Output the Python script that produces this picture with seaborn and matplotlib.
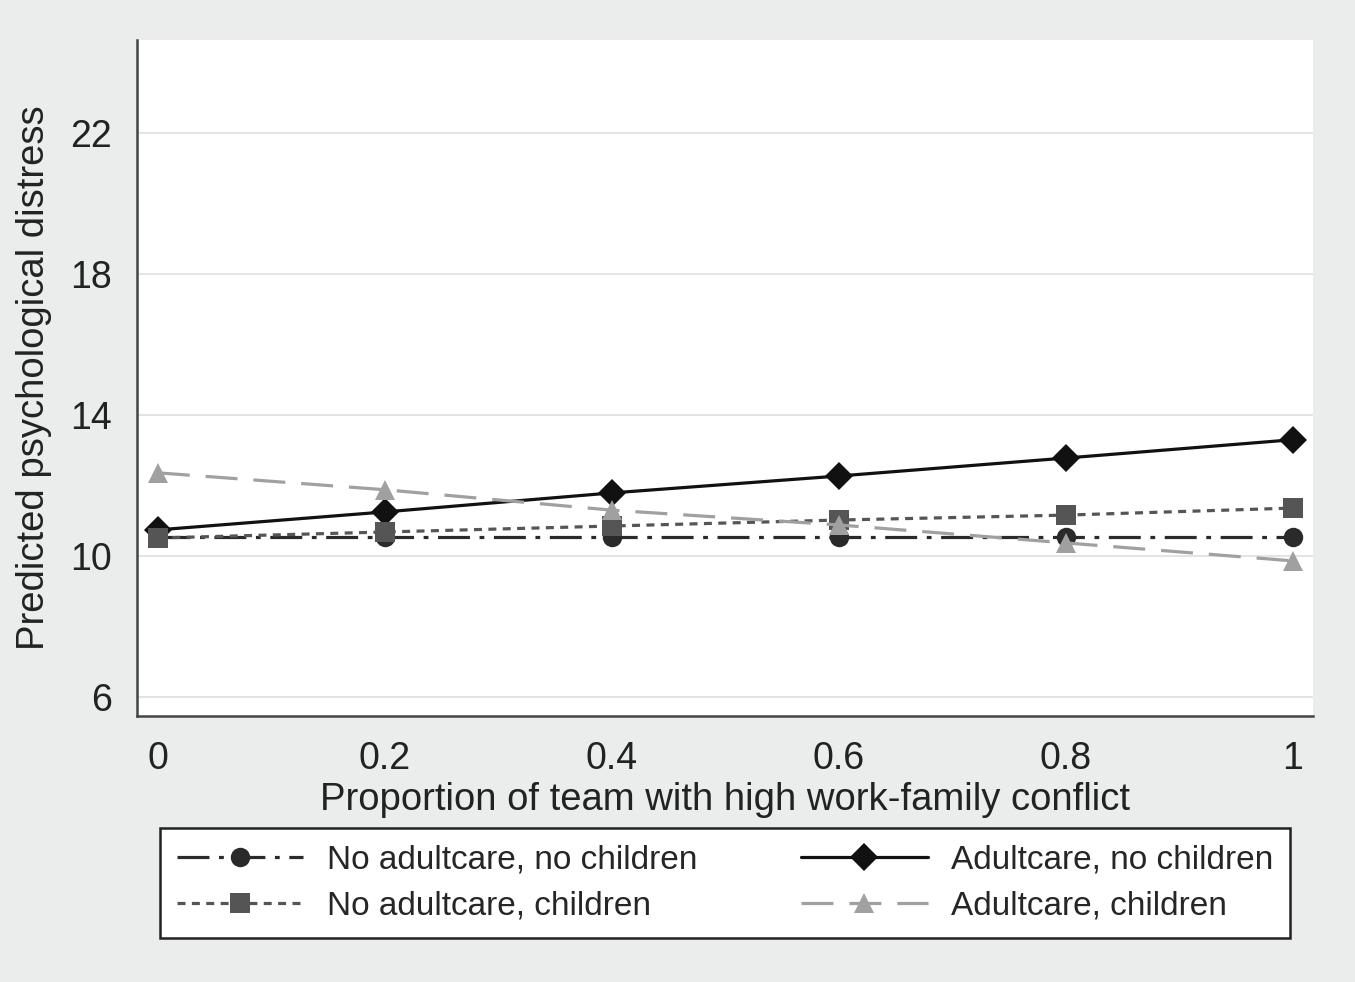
import pandas as pd
import seaborn as sns
import matplotlib.pyplot as plt

# Values
x_vals = [0, 0.2, 0.4, 0.6, 0.8, 1]
no_adult_no_child = [10.54, 10.54, 10.54, 10.54, 10.54, 10.54]
adult_no_child = [10.74, 11.25, 11.79, 12.27, 12.78, 13.30]
no_adult_child = [10.51, 10.68, 10.85, 11.02, 11.16, 11.36]
adult_child = [12.36, 11.88, 11.30, 10.88, 10.37, 9.86]

series_names = ["No adultcare, no children", "Adultcare, no children",
                "No adultcare, children", "Adultcare, children"]
series_vals = [no_adult_no_child, adult_no_child, no_adult_child, adult_child]
y_ticks = [6, 10, 14, 18, 22]
x_ticks = [0, 0.2, 0.4, 0.6, 0.8, 1]
x_tick_labels = ["0", "0.2", "0.4", "0.6", "0.8", "1"]

df = pd.DataFrame({
    "x": x_vals * len(series_names),
    "y": [v for vals in series_vals for v in vals],
    "group": [n for n in series_names for _ in x_vals],
})

sns.set_style("white")
plt.rcParams['font.family'] = ['Liberation Sans', 'DejaVu Sans']

palette = {
    "No adultcare, no children": "#2a2a2a",
    "Adultcare, no children": "#111111",
    "No adultcare, children": "#555555",
    "Adultcare, children": "#a0a0a0",
}
markers = {
    "No adultcare, no children": "o",
    "Adultcare, no children": "D",
    "No adultcare, children": "s",
    "Adultcare, children": "^",
}
dashes = {
    "No adultcare, no children": (10, 3, 1.5, 3),
    "Adultcare, no children": "",
    "No adultcare, children": (2.5, 2),
    "Adultcare, children": (10, 5),
}

fig = plt.figure(figsize=(13.55, 9.82), dpi=100)
fig.patch.set_facecolor("#ebeded")
ax = fig.add_axes([0.101, 0.271, 0.868, 0.688])
ax.set_facecolor("white")

sns.lineplot(data=df, x="x", y="y", hue="group", style="group",
             hue_order=series_names, style_order=series_names,
             palette=palette, markers=markers, dashes=dashes,
             markersize=14, linewidth=2.3, markeredgewidth=0,
             ax=ax, legend=True)

ax.set_xlim(-0.0185, 1.0176)
ax.set_ylim(5.46, 24.64)
ax.set_yticks(y_ticks)
ax.set_xticks(x_ticks)
ax.set_xticklabels(x_tick_labels)
ax.yaxis.grid(True, color="#e4e4e4", linewidth=1.5)
ax.set_axisbelow(True)

for s in ["top", "right"]:
    ax.spines[s].set_visible(False)
for s in ["left", "bottom"]:
    ax.spines[s].set_color("#444444")
    ax.spines[s].set_linewidth(1.8)

ax.tick_params(axis="both", direction="out", length=12, width=1.8,
               color="#444444", labelsize=27, labelcolor="#222222", pad=6)
ax.set_xlabel("Proportion of team with high work-family conflict",
              fontsize=27.5, color="#222222", labelpad=4)
ax.set_ylabel("Predicted psychological distress", fontsize=27.5,
              color="#222222", labelpad=13)

# legend filled row by row like the original
handles, labels = ax.get_legend_handles_labels()
ax.get_legend().remove()
order = [0, 2, 1, 3]
leg = fig.legend([handles[i] for i in order], [labels[i] for i in order],
                 ncol=2, loc="center",
                 bbox_to_anchor=(0.118, 0.043, 0.834, 0.116),
                 fontsize=24, frameon=True, fancybox=False, framealpha=1,
                 edgecolor="#222222", facecolor="white",
                 handlelength=3.8, handletextpad=0.7, columnspacing=2.5,
                 labelspacing=0.45, borderpad=0.5, borderaxespad=0,
                 mode="expand")
leg.get_frame().set_linewidth(1.8)

fig.savefig("out.png", dpi=100, facecolor=fig.get_facecolor())
